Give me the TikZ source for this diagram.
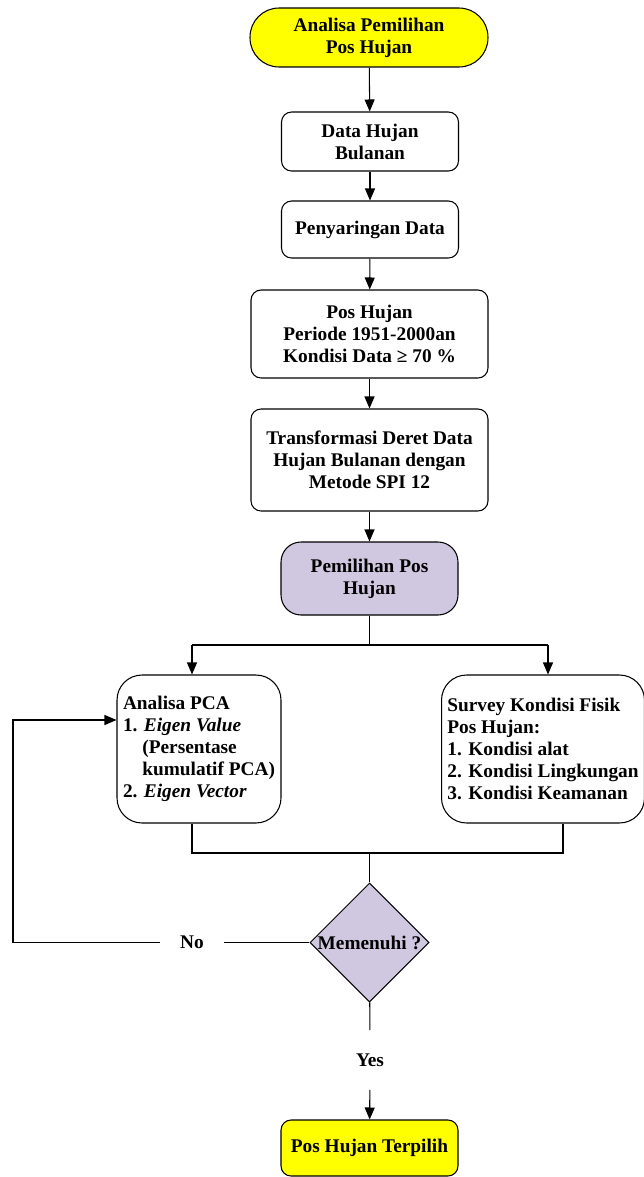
\documentclass[tikz,border=0pt]{standalone}
\usepackage{fontspec}
\setmainfont{Liberation Serif}
\usetikzlibrary{shapes.geometric,arrows.meta}
\definecolor{kuning}{RGB}{255,255,0}
\definecolor{ungu}{RGB}{208,200,224}
\begin{document}
\begin{tikzpicture}[x=0.02cm,y=-0.02cm,line width=0.6pt,
  every node/.style={font=\bfseries\fontsize{11}{12.5}\selectfont},
  kotak/.style={draw,rounded corners=0.2cm,align=center,minimum width=3.54cm,minimum height=1.18cm},
  ujung/.style={kotak,fill=kuning,rounded corners=0.58cm,minimum width=4.76cm},
  daftar/.style={kotak,align=left,rounded corners=0.5cm,minimum height=2.96cm},
  panah/.style={-{Triangle[length=0.24cm,width=0.2cm]}}]
\useasboundingbox (0,0) rectangle (644,1177);

\node[ujung] at (369,37.5) (mulai) {Analisa Pemilihan\\Pos Hujan};
\node[kotak] at (370,141.5) (data) {Data Hujan\\Bulanan};
\node[kotak,minimum height=1.14cm] at (370,229.5) (saring) {Penyaringan Data};
\node[kotak,minimum width=4.74cm,minimum height=1.76cm] at (369.5,334) (periode) {Pos Hujan\\Periode 1951-2000an\\Kondisi Data ≥ 70 \%};
\node[kotak,minimum width=4.74cm,minimum height=2.04cm] at (369.5,460) (spi) {Transformasi Deret Data\\Hujan Bulanan dengan\\Metode SPI 12};
\node[kotak,fill=ungu,rounded corners=0.4cm,minimum height=1.46cm] at (369.5,578.5) (pilih) {Pemilihan Pos\\Hujan};

\node[daftar,minimum width=3.28cm] at (199,749) (pca) {Analisa PCA\\
1. \textit{Eigen Value}\\
\hphantom{1.\ }(Persentase\\
\hphantom{1.\ }kumulatif PCA)\\
2. \textit{Eigen Vector}};
\node[daftar,minimum width=4.0cm] at (543,749) (survey) {Survey Kondisi Fisik\\
Pos Hujan:\\
1. Kondisi alat\\
2. Kondisi Lingkungan\\
3. Kondisi Keamanan};

\node[draw,diamond,fill=ungu,minimum width=2.38cm,minimum height=2.38cm,inner sep=0pt] at (369.5,942.5) (cek) {\makebox[0pt]{Memenuhi ?}};
\node[inner xsep=0.4cm] at (192,942.5) (no) {No};
\node[inner ysep=0.46cm] at (370,1060) (yes) {Yes};
\node[kotak,fill=kuning,minimum height=1.12cm] at (369.5,1148) (hasil) {Pos Hujan Terpilih};

\draw[panah] (mulai) -- (data);
\draw[panah] (data) -- (saring);
\draw[panah] (saring) -- (periode);
\draw[panah] (periode) -- (spi);
\draw[panah] (spi) -- (pilih);

\coordinate (cabang) at (369.5,645);
\coordinate (cabangkiri) at (192,645);
\coordinate (cabangkanan) at (548,645);
\draw (pilih) -- (cabang);
\draw (cabangkiri) -- (cabangkanan);
\draw[panah] (cabangkiri) -- (cabangkiri |- pca.north);
\draw[panah] (cabangkanan) -- (cabangkanan |- survey.north);

\coordinate (gabung) at (369.5,853);
\coordinate (gabungkiri) at (192,853);
\coordinate (gabungkanan) at (563,853);
\draw (gabungkiri |- pca.south) -- (gabungkiri) -- (gabungkanan) -- (gabungkanan |- survey.south);
\draw (gabung) -- (cek);

\coordinate (balik) at (13,720);
\draw (cek) -- (no);
\draw[panah] (no) -| (balik) -- (balik -| pca.west);
\draw (cek) -- (yes);
\draw[panah] (yes) -- (hasil);
\end{tikzpicture}
\end{document}
